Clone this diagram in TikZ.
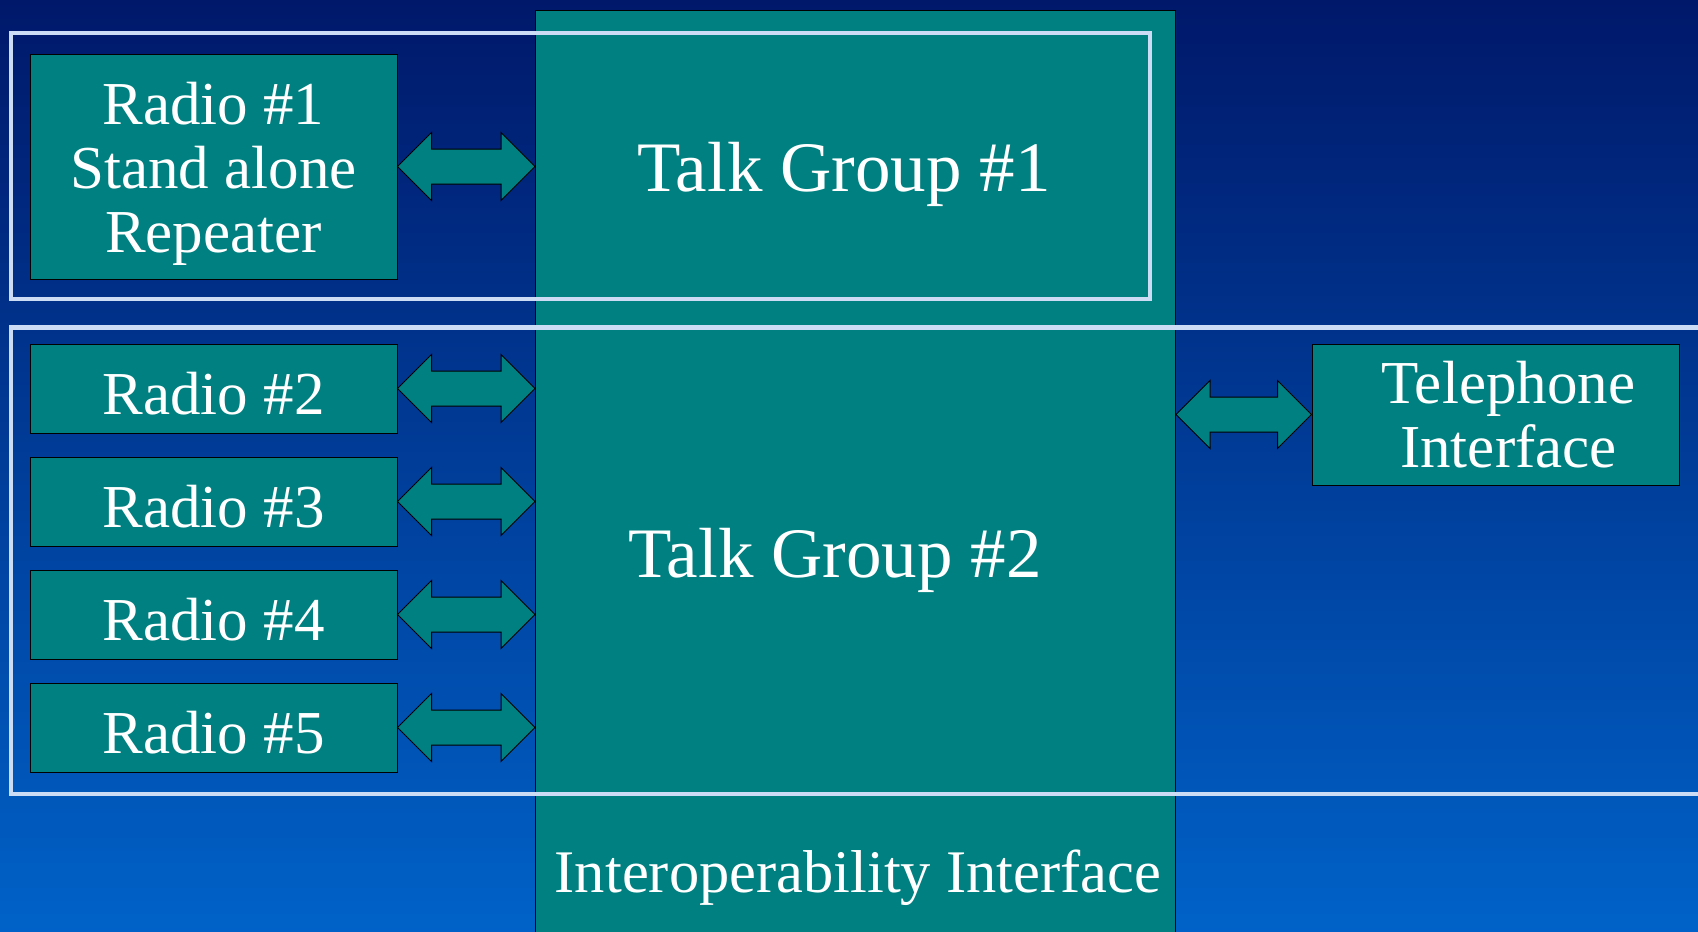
\documentclass[tikz,border=0pt]{standalone}
\usepackage{fontspec}
\setmainfont{Liberation Serif}
\usetikzlibrary{calc}

\definecolor{slidetop}{RGB}{0,24,106}
\definecolor{slidebottom}{RGB}{0,98,200}
\definecolor{tealbox}{RGB}{0,128,128}
\definecolor{groupline}{RGB}{204,220,245}

\tikzset{
  unit/.style={draw=black, fill=tealbox, text=white, line width=1pt, inner sep=0pt,
    align=center, font=\fontsize{61}{64}\selectfont},
  caption/.style={text=white, anchor=base, inner sep=0pt},
  groupframe/.style={draw=groupline, line width=4.5pt},
  linkarrow/.style={draw=black, fill=tealbox, line width=1pt},
}

% two-headed block arrow from #1 to #2 (same height)
\newcommand{\biarrow}[2]{%
  \draw[linkarrow] let \p1=(#1), \p2=(#2) in
    (\x1,\y1) -- (\x1+34pt,\y1+34pt) -- (\x1+34pt,\y1+17.5pt) -- (\x2-34pt,\y1+17.5pt)
    -- (\x2-34pt,\y1+34pt) -- (\x2,\y1) -- (\x2-34pt,\y1-34pt) -- (\x2-34pt,\y1-17.5pt)
    -- (\x1+34pt,\y1-17.5pt) -- (\x1+34pt,\y1-34pt) -- cycle;}

\begin{document}
\begin{tikzpicture}[x=1pt,y=-1pt]
  \useasboundingbox (0,0) rectangle (1698,932);
  \shade[top color=slidetop, bottom color=slidebottom] (0,0) rectangle (1698,932);

  % interoperability column
  \node[unit, minimum width=640, minimum height=940, anchor=north west] (iface) at (535,10) {};
  \node[caption, font=\fontsize{71}{74}\selectfont] (tg1) at (844,191) {Talk Group \#1};
  \node[caption, font=\fontsize{71}{74}\selectfont] (tg2) at (835,577) {Talk Group \#2};
  \node[caption, font=\fontsize{60.5}{64}\selectfont] (interop) at (858,892) {Interoperability Interface};

  % radios
  \node[unit, minimum width=367, minimum height=225] (radio1) at (213.5,166.5)
    {\rule{0pt}{56pt}Radio \#1\\Stand alone\\Repeater};
  \foreach \i/\y in {2/388.5,3/501.5,4/614.5,5/727.5}
    \node[unit, minimum width=367, minimum height=89, text height=51pt, text depth=0pt] (radio\i) at (213.5,\y)
      {Radio \#\i};
  \node[unit, minimum width=367, minimum height=141] (phone) at (1495.5,414.5)
    {\hspace*{26pt}Telephone\\\hspace*{26pt}Interface};

  % links
  \foreach \i in {1,...,5} {
    \biarrow{radio\i.east}{radio\i.east -| iface.west}
  }
  \biarrow{iface.east |- phone.west}{phone.west}

  % talk group frames
  \draw[groupframe] (11,33) rectangle (1150,299);
  \draw[groupframe] (11,327.5) rectangle (1720,794);
\end{tikzpicture}
\end{document}
